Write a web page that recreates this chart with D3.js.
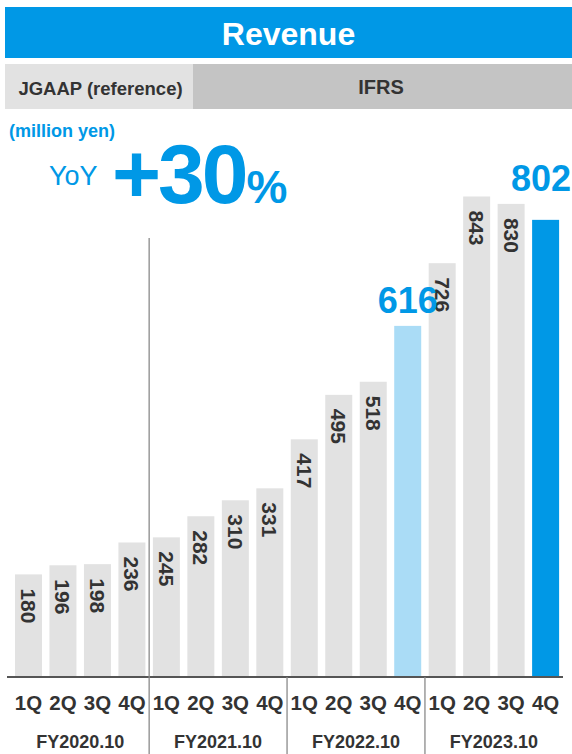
<!DOCTYPE html>
<html>
<head>
<meta charset="utf-8">
<script src="https://cdn.jsdelivr.net/npm/d3@7/dist/d3.min.js"></script>
<style>
  html, body { margin: 0; padding: 0; background: #fff; }
  svg { display: block; font-family: "Liberation Sans", Arial, sans-serif; }
</style>
</head>
<body>
<svg id="chart" width="572" height="754"></svg>
<script>
// Quarterly revenue (million yen)
const fiscalYears = ["FY2020.10", "FY2021.10", "FY2022.10", "FY2023.10"];
const quarters = ["1Q", "2Q", "3Q", "4Q"];
const revenue = [
  180, 196, 198, 236,
  245, 282, 310, 331,
  417, 495, 518, 616,
  726, 843, 830, 802
];
// Bars shown with a large blue value label instead of the rotated one
const highlightPrevious = 11; // FY2022.10 4Q
const highlightCurrent = 15;  // FY2023.10 4Q
const yoyText = "+30";

const BLUE = "#0098e6";
const LIGHT_BLUE = "#aadcf6";
const GRAY_BAR = "#e2e2e2";
const TEXT = "#333333";

const svg = d3.select("#chart");

const bars = revenue.map((v, i) => ({
  key: fiscalYears[Math.floor(i / 4)] + "-" + quarters[i % 4],
  fy: fiscalYears[Math.floor(i / 4)],
  q: quarters[i % 4],
  value: v,
  index: i
}));

// Header: title band
svg.append("rect").attr("x", 5).attr("y", 7).attr("width", 567).attr("height", 51).attr("fill", BLUE);
svg.append("text").attr("x", 288.5).attr("y", 45)
  .attr("text-anchor", "middle").attr("fill", "#fff")
  .attr("font-size", 32).attr("font-weight", "bold").text("Revenue");

// Header: accounting standard band
svg.append("rect").attr("x", 5).attr("y", 64).attr("width", 188).attr("height", 45).attr("fill", "#e2e2e2");
svg.append("rect").attr("x", 193).attr("y", 64).attr("width", 379).attr("height", 45).attr("fill", "#c4c4c4");
svg.append("text").attr("x", 100.5).attr("y", 95).attr("text-anchor", "middle").attr("fill", TEXT)
  .attr("font-size", 18.5).attr("font-weight", "bold").text("JGAAP (reference)");
svg.append("text").attr("x", 381).attr("y", 94).attr("text-anchor", "middle").attr("fill", TEXT)
  .attr("font-size", 20).attr("font-weight", "bold").text("IFRS");

// Unit and growth annotation
svg.append("text").attr("x", 9).attr("y", 137).attr("fill", BLUE)
  .attr("font-size", 18).attr("font-weight", "bold").text("(million yen)");
svg.append("text").attr("x", 49).attr("y", 185).attr("fill", BLUE)
  .attr("font-size", 27).text("YoY");
const yoy = svg.append("text").attr("x", 112).attr("y", 203).attr("fill", BLUE).attr("font-weight", "bold");
yoy.append("tspan").attr("font-size", 84).attr("letter-spacing", -3).text(yoyText);
yoy.append("tspan").attr("font-size", 46).attr("dx", 1).text("%");

// Scales
const x = d3.scaleBand()
  .domain(bars.map(d => d.key))
  .range([8.1, 566])
  .paddingInner(0.217)
  .paddingOuter(0.2);

const y = d3.scaleLinear().domain([0, 900]).range([677, 164]);

// Bars
svg.append("g").selectAll("rect").data(bars).join("rect")
  .attr("x", d => x(d.key))
  .attr("y", d => y(d.value))
  .attr("width", x.bandwidth())
  .attr("height", d => y(0) - y(d.value))
  .attr("fill", d => d.index === highlightCurrent ? BLUE : d.index === highlightPrevious ? LIGHT_BLUE : GRAY_BAR);

// Rotated value labels inside the bars
svg.append("g").selectAll("text")
  .data(bars.filter(d => d.index !== highlightPrevious && d.index !== highlightCurrent))
  .join("text")
  .attr("transform", d => `translate(${x(d.key) + x.bandwidth() / 2},${y(d.value) + 14}) rotate(90)`)
  .attr("dy", "0.36em")
  .attr("fill", TEXT)
  .attr("font-size", 21)
  .attr("font-weight", "bold")
  .text(d => d.value);

// Large blue labels for highlighted bars (the last one kept inside the right edge)
const bigLabels = [
  { d: bars[highlightPrevious], gap: 13, anchor: "middle", dx: 0 },
  { d: bars[highlightCurrent], gap: 29, anchor: "end", dx: 0 }
];
svg.append("g").selectAll("text").data(bigLabels).join("text")
  .attr("x", b => b.anchor === "end" ? 571 : x(b.d.key) + x.bandwidth() / 2)
  .attr("y", b => y(b.d.value) - b.gap)
  .attr("text-anchor", b => b.anchor)
  .attr("fill", BLUE)
  .attr("font-size", 36)
  .attr("font-weight", "bold")
  .text(b => b.d.value);

// Baseline
svg.append("line")
  .attr("x1", 7).attr("x2", 563)
  .attr("y1", y(0)).attr("y2", y(0))
  .attr("stroke", "#555").attr("stroke-width", 2);

// Fiscal year separators
const step = x.step();
fiscalYears.slice(1).forEach((fy, i) => {
  const firstKey = fy + "-1Q";
  const sx = x(firstKey) - (step - x.bandwidth()) / 2;
  svg.append("line")
    .attr("x1", sx).attr("x2", sx)
    .attr("y1", i === 0 ? 238 : y(0)).attr("y2", 754)
    .attr("stroke", "#8a8a8a").attr("stroke-width", 1.3);
});

// Quarter labels
svg.append("g").selectAll("text").data(bars).join("text")
  .attr("x", d => x(d.key) + x.bandwidth() / 2)
  .attr("y", 710)
  .attr("text-anchor", "middle")
  .attr("fill", TEXT)
  .attr("font-size", 20.5)
  .attr("font-weight", "bold")
  .text(d => d.q);

// Fiscal year labels
svg.append("g").selectAll("text").data(fiscalYears).join("text")
  .attr("x", fy => (x(fy + "-1Q") + x(fy + "-4Q") + x.bandwidth()) / 2)
  .attr("y", 748)
  .attr("text-anchor", "middle")
  .attr("fill", TEXT)
  .attr("font-size", 18)
  .attr("font-weight", "bold")
  .text(fy => fy);
</script>
</body>
</html>
